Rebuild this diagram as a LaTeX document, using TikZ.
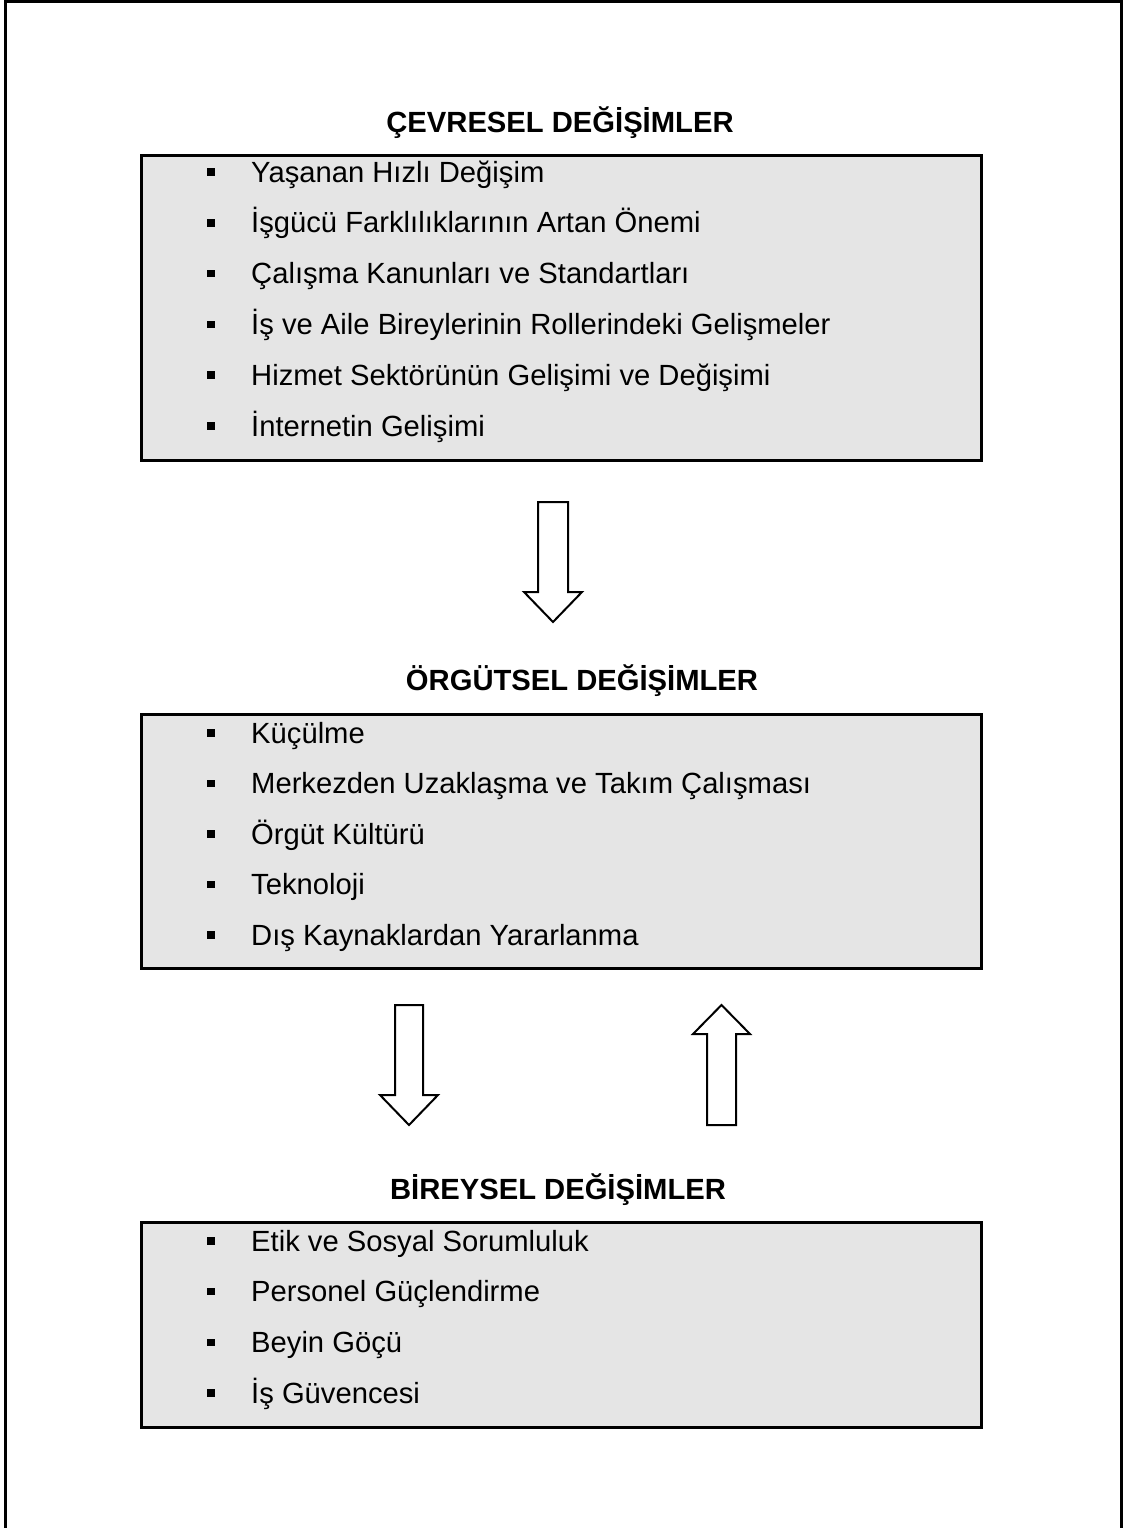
\documentclass[tikz,border=0pt]{standalone}
\usepackage{fontspec}
\setmainfont{Liberation Sans}
\begin{document}
\begin{tikzpicture}[x=1pt,y=-1pt,
  framebox/.style={draw=black,line width=3pt,fill=boxgray},
  heading/.style={anchor=base,inner sep=0pt,font=\fontsize{29.2}{35}\selectfont\bfseries},
  item/.style={anchor=base west,inner sep=0pt,font=\fontsize{29.2}{35}\selectfont},
  bullet/.style={fill=black,inner sep=0pt,minimum size=7.5pt},
  blockarrow/.style={draw=black,line width=2pt,fill=white,line join=miter}]
\definecolor{boxgray}{HTML}{E5E5E5}
\useasboundingbox (0,0) rectangle (1129,1528);
\fill[white] (0,0) rectangle (1129,1528);

% open outer frame
\draw[line width=3pt] (5,1530) -- (5,2) -- (1121,2) -- (1121,1530);

% headings
\node[heading] (h1) at (560,132) {ÇEVRESEL DEĞİŞİMLER};
\node[heading] (h2) at (582,690) {ÖRGÜTSEL DEĞİŞİMLER};
\node[heading] (h3) at (558,1199) {BİREYSEL DEĞİŞİMLER};

% grey boxes
\draw[framebox] (141,155) rectangle (981,460);
\draw[framebox] (141,714) rectangle (981,968);
\draw[framebox] (141,1222) rectangle (981,1427);

% item lists
\foreach \t [count=\i] in {Yaşanan Hızlı Değişim,
  İşgücü Farklılıklarının Artan Önemi,
  Çalışma Kanunları ve Standartları,
  İş ve Aile Bireylerinin Rollerindeki Gelişmeler,
  Hizmet Sektörünün Gelişimi ve Değişimi,
  İnternetin Gelişimi}{
  \pgfmathsetmacro\yy{172+50.8*(\i-1)}
  \node[bullet] (ba\i) at (211,\yy) {};
  \node[item] (ia\i) at (251,\yy+10) {\t};
}
\foreach \t [count=\i] in {Küçülme,
  Merkezden Uzaklaşma ve Takım Çalışması,
  Örgüt Kültürü,
  Teknoloji,
  Dış Kaynaklardan Yararlanma}{
  \pgfmathsetmacro\yy{733+50.5*(\i-1)}
  \node[bullet] (bb\i) at (211,\yy) {};
  \node[item] (ib\i) at (251,\yy+10) {\t};
}
\foreach \t [count=\i] in {Etik ve Sosyal Sorumluluk,
  Personel Güçlendirme,
  Beyin Göçü,
  İş Güvencesi}{
  \pgfmathsetmacro\yy{1241+50.7*(\i-1)}
  \node[bullet] (bc\i) at (211,\yy) {};
  \node[item] (ic\i) at (251,\yy+10) {\t};
}

% block arrows
\draw[blockarrow] (538,502) -- (568,502) -- (568,592) -- (582,592) -- (553,622)
  -- (524,592) -- (538,592) -- cycle;
\draw[blockarrow] (395,1005) -- (423,1005) -- (423,1095) -- (438,1095) -- (409,1125)
  -- (380,1095) -- (395,1095) -- cycle;
\draw[blockarrow] (707,1125) -- (736,1125) -- (736,1034) -- (750,1034) -- (721.5,1005)
  -- (693,1034) -- (707,1034) -- cycle;
\end{tikzpicture}
\end{document}
